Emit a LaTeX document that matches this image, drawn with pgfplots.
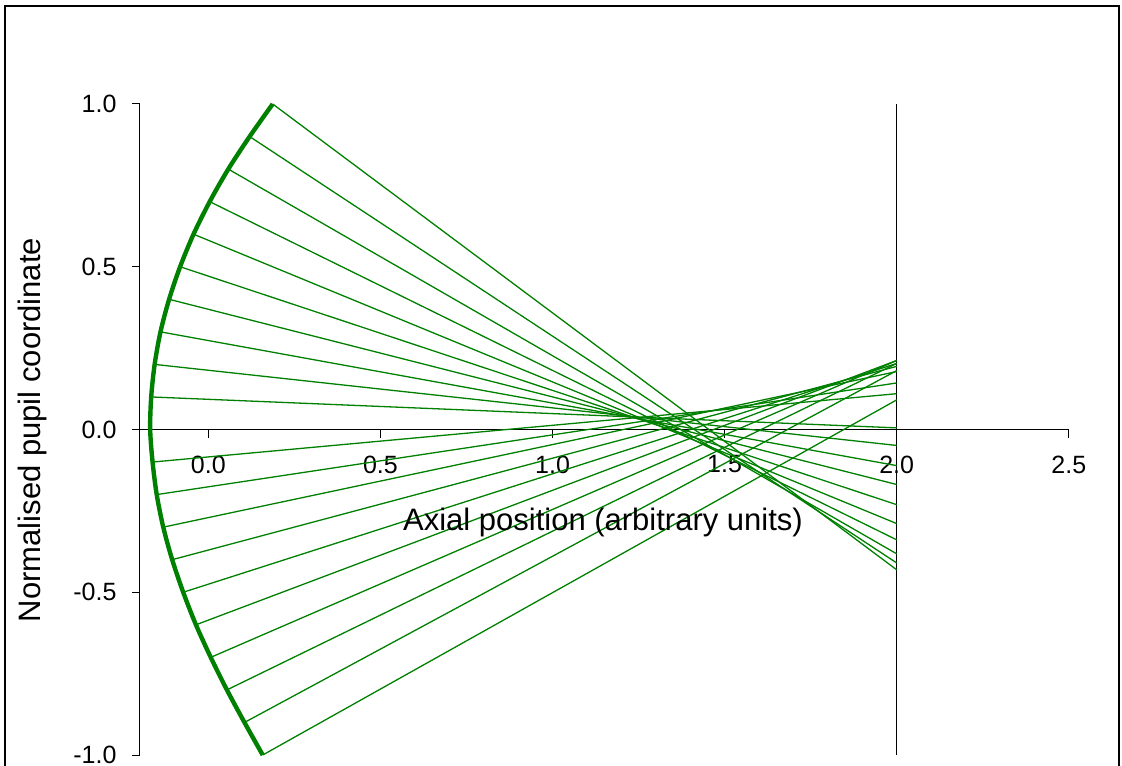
\documentclass[border=0pt]{standalone}
\usepackage{pgfplots}
\pgfplotsset{compat=1.18}
\usepackage{fontspec}
\setmainfont{Liberation Sans}
\definecolor{xlgreen}{RGB}{0,128,0}
\begin{document}
\begin{tikzpicture}
\useasboundingbox (0pt,0pt) rectangle (561pt,382.5pt);
\draw[black,line width=0.8pt] (2.5pt,-10pt) -- (2.5pt,379.5pt) -- (559.5pt,379.5pt) -- (559.5pt,-10pt);
\begin{axis}[
  at={(69.75pt,5pt)}, anchor=south west,
  scale only axis, width=464.65pt, height=325.5pt,
  xmin=-0.2, xmax=2.5, ymin=-1, ymax=1,
  clip=false,
  axis x line*=middle, axis y line*=left,
  axis line style={black,line width=0.5pt},
  xtick={0,0.5,1,1.5,2,2.5}, xticklabels={0.0,0.5,1.0,1.5,2.0,2.5},
  ytick={-1,-0.5,0,0.5,1}, yticklabels={-1.0,-0.5,0.0,0.5,1.0},
  tick align=outside, major tick length=4pt,
  tick style={black,line width=0.5pt},
  ticklabel style={font=\fontsize{12.5}{15}\selectfont},
  xticklabel style={anchor=north, yshift=-5.5pt},
  yticklabel style={anchor=east, xshift=-4pt},
]
\addplot[black,line width=0.5pt] coordinates {(2,-1) (2,1)};
% rays from the upper half
\addplot[xlgreen,line width=0.65pt] coordinates {(-0.166,0.1) (2,0.005)};
\addplot[xlgreen,line width=0.65pt] coordinates {(-0.156,0.2) (2,-0.049)};
\addplot[xlgreen,line width=0.65pt] coordinates {(-0.139,0.3) (2,-0.111)};
\addplot[xlgreen,line width=0.65pt] coordinates {(-0.114,0.4) (2,-0.169)};
\addplot[xlgreen,line width=0.65pt] coordinates {(-0.082,0.5) (2,-0.231)};
\addplot[xlgreen,line width=0.65pt] coordinates {(-0.043,0.6) (2,-0.289)};
\addplot[xlgreen,line width=0.65pt] coordinates {(0.004,0.7) (2,-0.339)};
\addplot[xlgreen,line width=0.65pt] coordinates {(0.058,0.8) (2,-0.382)};
\addplot[xlgreen,line width=0.65pt] coordinates {(0.120,0.9) (2,-0.410)};
\addplot[xlgreen,line width=0.65pt] coordinates {(0.187,1.0) (2,-0.431)};
% rays from the lower half
\addplot[xlgreen,line width=0.65pt] coordinates {(-0.162,-0.1) (2,0.110)};
\addplot[xlgreen,line width=0.65pt] coordinates {(-0.150,-0.2) (2,0.143)};
\addplot[xlgreen,line width=0.65pt] coordinates {(-0.131,-0.3) (2,0.178)};
\addplot[xlgreen,line width=0.65pt] coordinates {(-0.105,-0.4) (2,0.194)};
\addplot[xlgreen,line width=0.65pt] coordinates {(-0.073,-0.5) (2,0.203)};
\addplot[xlgreen,line width=0.65pt] coordinates {(-0.036,-0.6) (2,0.212)};
\addplot[xlgreen,line width=0.65pt] coordinates {(0.007,-0.7) (2,0.212)};
\addplot[xlgreen,line width=0.65pt] coordinates {(0.054,-0.8) (2,0.203)};
\addplot[xlgreen,line width=0.65pt] coordinates {(0.105,-0.9) (2,0.181)};
\addplot[xlgreen,line width=0.65pt] coordinates {(0.158,-1.0) (2,0.091)};
% surface
\addplot[xlgreen,line width=2.2pt,smooth] coordinates {
(0.187,1.0) (0.120,0.9) (0.058,0.8) (0.004,0.7) (-0.043,0.6) (-0.082,0.5)
(-0.114,0.4) (-0.139,0.3) (-0.156,0.2) (-0.166,0.1) (-0.169,0.0)
(-0.162,-0.1) (-0.150,-0.2) (-0.131,-0.3) (-0.105,-0.4) (-0.073,-0.5)
(-0.036,-0.6) (0.007,-0.7) (0.054,-0.8) (0.105,-0.9) (0.158,-1.0)};
\end{axis}
\node[font=\fontsize{15.5}{18}\selectfont] at (301.5pt,121.5pt) {Axial position (arbitrary units)};
\node[rotate=90,font=\fontsize{15.5}{18}\selectfont] at (16pt,167.5pt) {Normalised pupil coordinate};
\end{tikzpicture}
\end{document}
